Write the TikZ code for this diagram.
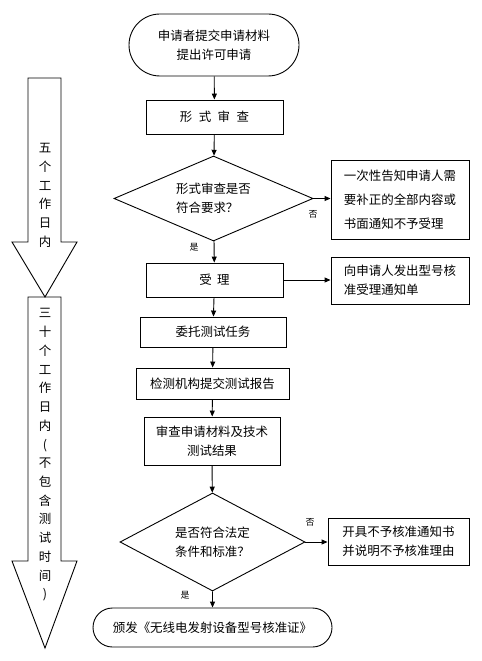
\documentclass[tikz,border=0pt]{standalone}
\usepackage{fontspec}
\setmainfont{Noto Sans CJK SC}
\usetikzlibrary{shapes.geometric,shapes.misc,arrows.meta}

\begin{document}
\begin{tikzpicture}[x=1bp,y=-1bp,
            every node/.style={font=\fontsize{12.5}{19}\selectfont, inner sep=0pt},
            box/.style={draw, line width=0.9bp, align=center},
            term/.style={box, rounded rectangle},
            test/.style={box, diamond, aspect=2.3, align=left},
            side/.style={box, align=left},
            yesno/.style={font=\fontsize{9}{9}\selectfont},
            flow/.style={line width=0.9bp, -{Triangle[length=6bp,width=5bp]}},
            days/.style={align=center, font=\fontsize{12.5}{18.8}\selectfont}]
    \useasboundingbox (0,0) rectangle (482,661);

    % left time arrows
    \draw[line width=0.9bp] (28,78) -- (61,78) -- (61,242) -- (77,242) -- (45,297)
        -- (12,242) -- (28,242) -- cycle;
    \draw[line width=0.9bp] (28,297) -- (61,297) -- (61,561) -- (77,561) -- (45,648)
        -- (12,561) -- (28,561) -- cycle;
    \node[days] (five) at (45,195.5) {五\\个\\工\\作\\日\\内};
    \node[days] (thirty) at (45,455) {三\\十\\个\\工\\作\\日\\内\\(\\不\\包\\含\\测\\试\\时\\间\\)};

    % main column
    \node[term, minimum width=170bp, minimum height=62bp] (apply) at (214,45)
        {申请者提交申请材料\\提出许可申请};
    \node[box, minimum width=137bp, minimum height=34bp] (form) at (214.5,117)
        {形\hspace{6.5bp}式\hspace{6.5bp}审\hspace{6.5bp}查};
    \node[test, minimum width=199bp, minimum height=85bp] (formok) at (213.5,198.5)
        {形式审查是否\\符合要求？};
    \node[box, minimum width=137bp, minimum height=34bp] (accept) at (214.5,280)
        {受\hspace{5.5bp}理};
    \node[box, minimum width=146bp, minimum height=30bp] (entrust) at (213,332)
        {委托测试任务};
    \node[box, minimum width=153bp, minimum height=31bp] (report) at (212.5,383.5)
        {检测机构提交测试报告};
    \node[box, minimum width=136bp, minimum height=48bp] (review) at (212,441)
        {审查申请材料及技术\\测试结果};
    \node[test, minimum width=185bp, minimum height=98bp] (legal) at (212.5,542)
        {是否符合法定\\条件和标准？};
    \node[term, minimum width=239bp, minimum height=39bp] (issue) at (212.5,627.5)
        {颁发《无线电发射设备型号核准证》};

    % side boxes
    \node[side, minimum width=138bp, minimum height=79bp,
        font=\fontsize{12.5}{24}\selectfont] (notify) at (400,199.5)
        {一次性告知申请人需\\要补正的全部内容或\\书面通知不予受理};
    \node[side, minimum width=138bp, minimum height=47bp] (notice) at (400,280.5)
        {向申请人发出型号核\\准受理通知单};
    \node[side, minimum width=141bp, minimum height=47bp] (refuse) at (398.5,541.5)
        {开具不予核准通知书\\并说明不予核准理由};

    % yes / no labels
    \node[yesno] (no1) at (313,214) {否};
    \node[yesno] (yes1) at (194,247) {是};
    \node[yesno] (no2) at (310,522) {否};
    \node[yesno] (yes2) at (185,595) {是};

    % connectors
    \draw[flow] (apply) -- (form);
    \draw[flow] (form) -- (formok);
    \draw[flow] (formok) -- (accept);
    \draw[flow] (accept) -- (entrust);
    \draw[flow] (entrust) -- (report);
    \draw[flow] (report) -- (review);
    \draw[flow] (review) -- (legal);
    \draw[flow] (legal) -- (issue);
    \draw[flow] (formok.east) -- (formok.east -| notify.west);
    \draw[flow] (accept.east) -- (accept.east -| notice.west);
    \draw[flow] (legal.east) -- (legal.east -| refuse.west);

\end{tikzpicture}
\end{document}
